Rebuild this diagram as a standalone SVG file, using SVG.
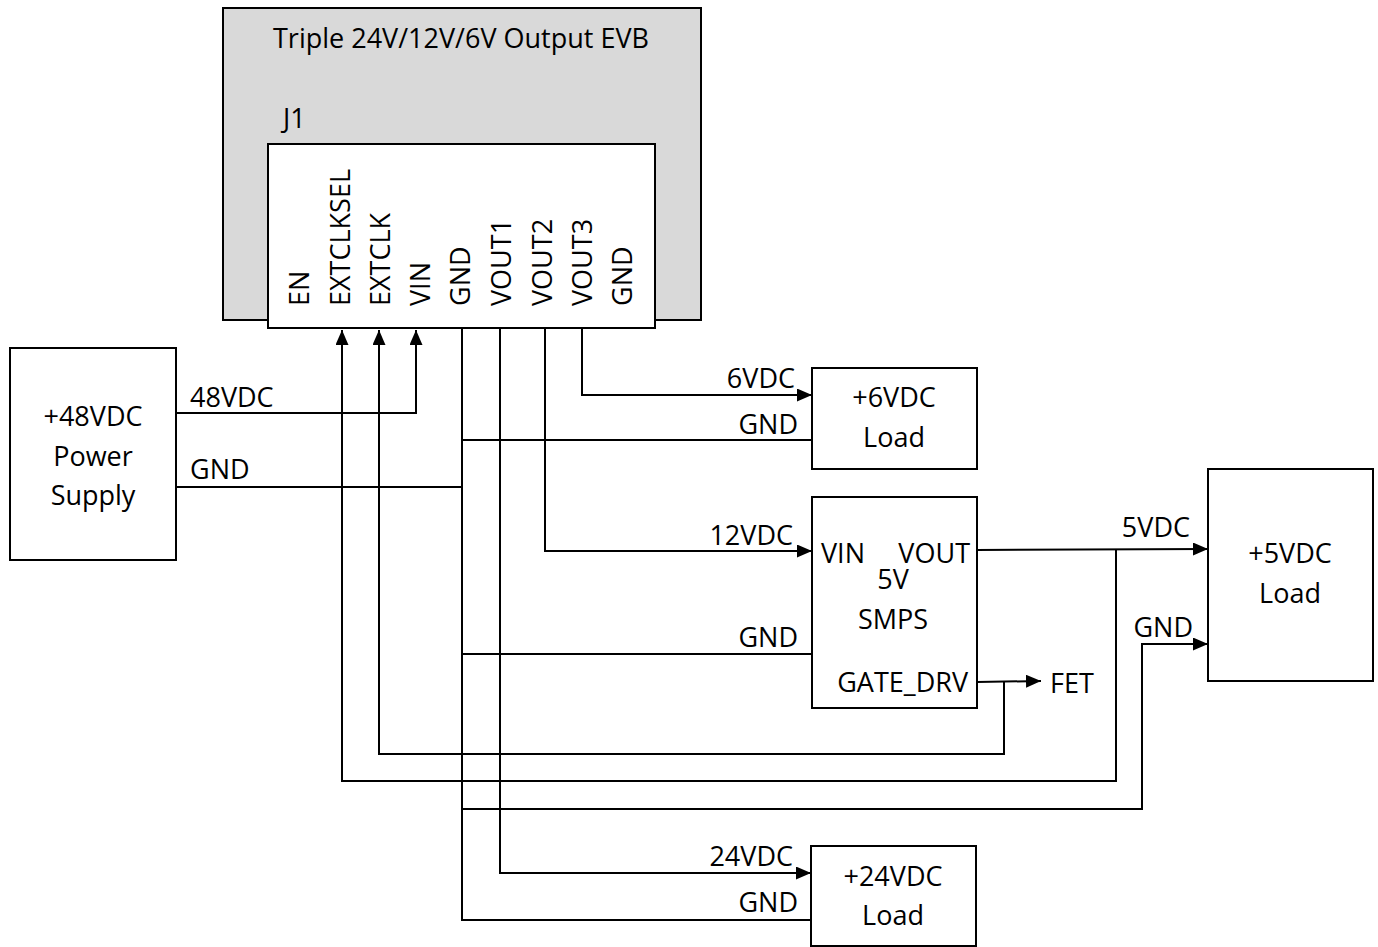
<svg xmlns="http://www.w3.org/2000/svg" width="1378" height="947" viewBox="0 0 1378 947">
<style>
text{font-family:"Open Sans","Liberation Sans",sans-serif;font-size:27px;fill:#000}
.box{fill:#fff;stroke:#000;stroke-width:2}
.c{text-anchor:middle}
.e{text-anchor:end}
.w{fill:none;stroke:#000;stroke-width:2}
</style>
<defs>
<marker id="ah" markerUnits="userSpaceOnUse" markerWidth="16" markerHeight="14" refX="15" refY="6.5" orient="auto">
<path d="M0,0 L15,6.5 L0,13 z" fill="#000"/>
</marker>
</defs>
<g id="evb">
<rect x="223" y="8" width="478" height="312" fill="#d9d9d9" stroke="#000" stroke-width="2"/>
<text x="461" y="48" class="c">Triple 24V/12V/6V Output EVB</text>
<text x="283" y="128">J1</text>
</g>
<g id="j1">
<rect class="box" x="268" y="144" width="387" height="184"/>
<text transform="translate(309,306) rotate(-90)">EN</text>
<text transform="translate(350,306) rotate(-90)">EXTCLKSEL</text>
<text transform="translate(390,306) rotate(-90)">EXTCLK</text>
<text transform="translate(430,306) rotate(-90)">VIN</text>
<text transform="translate(470,306) rotate(-90)">GND</text>
<text transform="translate(511,306) rotate(-90)">VOUT1</text>
<text transform="translate(552,306) rotate(-90)">VOUT2</text>
<text transform="translate(592,306) rotate(-90)">VOUT3</text>
<text transform="translate(632,306) rotate(-90)">GND</text>
</g>
<g id="psu">
<rect class="box" x="10" y="348" width="166" height="212"/>
<text x="93" y="426" class="c">+48VDC</text>
<text x="93" y="466" class="c">Power</text>
<text x="93" y="505" class="c">Supply</text>
</g>
<g id="load6">
<rect class="box" x="812" y="368" width="165" height="101"/>
<text x="894" y="407" class="c">+6VDC</text>
<text x="894" y="447" class="c">Load</text>
</g>
<g id="smps">
<rect class="box" x="812" y="497" width="165" height="211"/>
<text x="821" y="563">VIN</text>
<text x="970" y="563" class="e">VOUT</text>
<text x="893" y="589" class="c">5V</text>
<text x="893" y="629" class="c">SMPS</text>
<text x="968" y="692" class="e">GATE_DRV</text>
</g>
<g id="load5">
<rect class="box" x="1208" y="469" width="165" height="212"/>
<text x="1290" y="563" class="c">+5VDC</text>
<text x="1290" y="603" class="c">Load</text>
</g>
<g id="load24">
<rect class="box" x="811" y="846" width="165" height="100"/>
<text x="893" y="886" class="c">+24VDC</text>
<text x="893" y="925" class="c">Load</text>
</g>
<g id="fet">
<text x="1050" y="693">FET</text>
</g>
<g id="connectors">
<polyline class="w" points="176,413 416,413 416,330" marker-end="url(#ah)"/>
<polyline class="w" points="176,487 462,487"/>
<polyline class="w" points="462,328 462,920 811,920"/>
<polyline class="w" points="462,440 812,440"/>
<polyline class="w" points="462,654 812,654"/>
<polyline class="w" points="582,328 582,395 812,395" marker-end="url(#ah)"/>
<polyline class="w" points="545,328 545,551 812,551" marker-end="url(#ah)"/>
<polyline class="w" points="500,328 500,873 811,873" marker-end="url(#ah)"/>
<polyline class="w" points="977,550 1208,549" marker-end="url(#ah)"/>
<polyline class="w" points="977,682 1041,681" marker-end="url(#ah)"/>
<polyline class="w" points="1004,682 1004,754 379,754 379,330" marker-end="url(#ah)"/>
<polyline class="w" points="1116,550 1116,781 342,781 342,330" marker-end="url(#ah)"/>
<polyline class="w" points="462,809 1142,809 1142,644 1208,644" marker-end="url(#ah)"/>
<text x="190" y="407">48VDC</text>
<text x="190" y="479">GND</text>
<text x="795" y="388" class="e">6VDC</text>
<text x="798" y="434" class="e">GND</text>
<text x="793" y="545" class="e">12VDC</text>
<text x="798" y="647" class="e">GND</text>
<text x="793" y="866" class="e">24VDC</text>
<text x="798" y="912" class="e">GND</text>
<text x="1190" y="537" class="e">5VDC</text>
<text x="1193" y="637" class="e">GND</text>
</g>
</svg>
